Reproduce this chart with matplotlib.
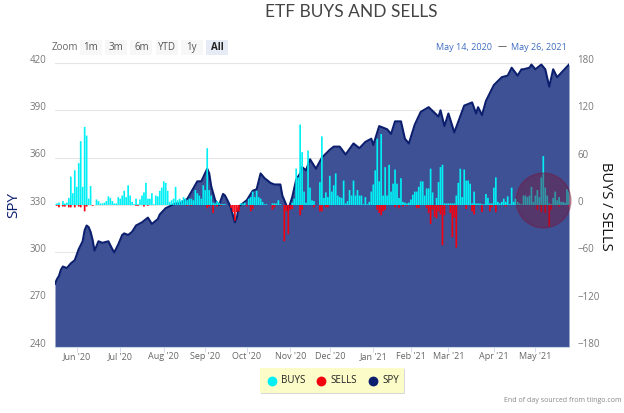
import matplotlib.pyplot as plt
import matplotlib.transforms as mtrans
import numpy as np
import pandas as pd

## Initializing Required Variables
holidays = ['2020-05-25', '2020-07-03', '2020-09-07', '2020-11-26', '2020-12-25', '2021-01-01', '2021-01-18', '2021-02-15', '2021-04-02']
title = "ETF BUYS AND SELLS"
zoom_buttons = ['1m', '3m', '6m', 'YTD', '1y', 'All']
left_ticks = [240, 270, 300, 330, 360, 390, 420]
right_ticks = [-180, -120, -60, 0, 60, 120, 180]

buys = [
  1, 2, 3, 0, 5, 2, 3, 9, 36, 15,
  44, 23, 53, 81, 23, 99, 88, 8, 24, 0,
  0, 7, 5, 2, 2, 3, 5, 11, 9, 5,
  2, 2, 10, 8, 12, 18, 10, 25, 12, 4,
  1, 8, 1, 7, 12, 16, 28, 8, 8, 15,
  1, 12, 11, 18, 22, 30, 28, 18, 4, 6,
  8, 23, 6, 8, 6, 10, 8, 6, 8, 8,
  6, 19, 15, 12, 8, 25, 19, 72, 19, 12,
  3, 2, 5, 3, 1, 1, 1, 0, 0, 0,
  0, 0, 0, 0, 2, 2, 3, 0, 8, 10,
  17, 10, 18, 10, 8, 4, 1, 1, 0, 0,
  2, 2, 2, 6, 1, 0, 0, 0, 0, 0,
  3, 8, 46, 35, 102, 67, 17, 3, 69, 22,
  6, 5, 0, 0, 29, 87, 9, 16, 10, 37,
  17, 25, 40, 12, 10, 9, 31, 2, 5, 19,
  12, 31, 12, 19, 12, 12, 1, 10, 1, 4,
  17, 26, 44, 84, 30, 90, 12, 48, 12, 51,
  17, 27, 45, 27, 9, 34, 4, 3, 2, 3,
  7, 13, 17, 17, 23, 30, 30, 12, 21, 21,
  46, 16, 0, 9, 29, 48, 51, 2, 2, 2,
  2, 2, 2, 12, 28, 46, 10, 45, 31, 31,
  27, 2, 17, 2, 2, 2, 1, 1, 14, 9,
  2, 2, 22, 35, 4, 2, 4, 8, 4, 11,
  1, 22, 4, 8, 4, 2, 1, 12, 12, 10,
  12, 23, 4, 12, 19, 10, 35, 62, 22, 12,
  2, 1, 9, 17, 6, 10, 4, 4, 3, 20, 17]

sell_days = [1, 2, 4, 5, 7, 8, 10, 12, 13, 15, 16, 19, 41, 42, 45, 47, 67, 69, 77, 78, 80, 82, 84,
  89, 90, 91, 92, 93, 97, 99, 100, 110, 111, 116, 117, 118, 119, 120, 124, 125, 131, 134, 135, 137, 138,
  163, 164, 165, 166, 167, 172, 174, 176, 178, 183, 184, 188, 189, 190, 191, 192, 193, 194, 195, 196, 197,
  200, 201, 202, 203, 208, 211, 212, 216, 220, 221, 223, 228, 244, 246, 248, 250, 251, 255, 260]
sell_values = [1, 3, 2, 2, 3, 3, 3, 2, 3, 8, 2, 1, 1, 1, 2, 1, 1, 1, 4, 2, 10, 2, 1,
  4, 9, 20, 9, 8, 2, 8, 5, 6, 3, 46, 8, 37, 6, 5, 13, 6, 3, 8, 8, 3, 3,
  6, 10, 13, 8, 6, 3, 4, 2, 1, 4, 4, 4, 10, 24, 6, 15, 17, 8, 12, 51, 13,
  10, 41, 16, 54, 5, 8, 12, 9, 8, 3, 9, 2, 6, 9, 10, 27, 6, 2, 2]

spy_days = [0, 1, 2, 3, 4, 6, 8, 10, 12, 14, 15, 16, 17, 18, 19, 20, 22, 24, 27, 29, 30, 32, 34, 35, 37, 39, 41, 44, 47, 49,
  50, 52, 53, 56, 61, 63, 67, 72, 74, 77, 78, 79, 81, 83, 85, 86, 88, 89, 91, 92, 93, 95, 97, 100, 102, 104, 106, 109, 111, 114,
  115, 118, 120, 122, 124, 125, 127, 129, 132, 135, 139, 141, 144, 147, 151, 154, 157, 160, 161, 164, 168, 170, 172, 175, 177, 179, 182, 185, 189, 194,
  195, 197, 199, 202, 207, 211, 213, 214, 216, 218, 222, 226, 229, 231, 234, 236, 237, 240, 241, 243, 246, 248, 250, 252, 254, 257, 260]
spy_values = [280, 283, 285, 289, 291, 290, 293, 295, 302, 307, 314, 317, 316, 313, 308, 301, 307, 306, 307, 302, 300, 305, 311, 312, 311, 313, 317, 319, 322, 318,
  319, 321, 324, 328, 331, 331, 334, 345, 345, 353, 350, 342, 333, 330, 337, 336, 331, 328, 319, 322, 329, 331, 333, 339, 340, 350, 347, 344, 343, 343,
  336, 327, 335, 346, 350, 354, 352, 359, 353, 360, 365, 367, 367, 362, 369, 366, 370, 372, 368, 380, 378, 375, 383, 383, 372, 369, 381, 389, 392, 386,
  390, 380, 388, 376, 393, 395, 388, 392, 387, 396, 406, 411, 412, 417, 412, 416, 416, 417, 419, 416, 419, 416, 405, 416, 411, 415, 419]

## Dates on an ordinal axis, one slot for every trading day
dates = pd.bdate_range('2020-05-14', '2021-05-26')
dates = dates[~dates.isin(pd.to_datetime(holidays))]
x = np.arange(len(dates))
sells = np.zeros(len(dates))
sells[sell_days] = sell_values

## Month ticks
months = pd.Series(x, index=dates).groupby([dates.year, dates.month]).first()[1:]
month_labels = [dates[i].strftime("%b '%y") for i in months]

plt.rcParams['font.family'] = ['Open Sans', 'DejaVu Sans']

fig = plt.figure(figsize=(6.24, 4.13), dpi=100)
W, H = 624.0, 413.0
ax = fig.add_axes([55 / W, 1 - 347 / H, 514 / W, 284 / H])
ax2 = ax.twinx()
lift = mtrans.ScaledTranslation(0, 3 / 72, fig.dpi_scale_trans)  # labels sit a little above the grid

## SPY area on the left axis
ax.fill_between(spy_days, spy_values, 240, color='#3f5195', linewidth=0, zorder=2)
ax.plot(spy_days, spy_values, color='#0b1f6e', linewidth=1.5, zorder=3)
ax.set_xlim(0, len(dates) - 1)
ax.set_ylim(240, 420)
ax.set_yticks(left_ticks)
ax.grid(axis='y', color='#e6e6e6', linewidth=0.8, zorder=0)
ax.set_axisbelow(True)
ax.set_xticks(months.values)
ax.set_xticklabels(month_labels)
ax.tick_params(axis='x', length=3.6, width=0.6, color='#ccd6eb', labelsize=6.5, labelcolor='#666666', pad=0)
ax.tick_params(axis='y', length=0, labelsize=7, labelcolor='#777777', pad=6)
for label in ax.get_yticklabels():
  label.set_transform(label.get_transform() + lift)

## Buys and sells on the right axis
ax2.bar(x, buys, width=0.85, color='#00f0f5', zorder=4, snap=False)
ax2.bar(x, -sells, width=0.85, color='#f5000f', zorder=4, snap=False)
ax2.scatter([247], [6], s=1560, facecolor='#7a1030', edgecolor='#7a1030', alpha=0.4, linewidth=1, zorder=5, clip_on=False)
ax2.set_ylim(-180, 180)
ax2.set_yticks(right_ticks)
ax2.tick_params(axis='y', length=0, labelsize=7, labelcolor='#777777', pad=6)
for label in ax2.get_yticklabels():
  label.set_transform(label.get_transform() + lift)

for side in ['top', 'left', 'right']:
  ax.spines[side].set_visible(False)
  ax2.spines[side].set_visible(False)
ax.spines['bottom'].set_color('#ccd6eb')
ax2.spines['bottom'].set_visible(False)
ax.patch.set_alpha(0)

## Title and axis names
fig.text(351 / W, 1 - 12 / H, title, ha='center', va='center', fontsize=12.5, color='#444444', family='Lato')
fig.text(14 / W, 1 - 205 / H, 'SPY', rotation=90, ha='center', va='center', fontsize=11, color='#0b1f6e')
fig.text(606 / W, 1 - 206 / H, 'BUYS / SELLS', rotation=270, ha='center', va='center', fontsize=10.5, color='#111111')

## Range selector
fig.text(65 / W, 1 - 47.5 / H, 'Zoom', ha='center', va='center', fontsize=7, color='#666666')
for i, name in enumerate(zoom_buttons):
  left = 80 + i * 25.2
  active = name == 'All'
  fig.patches.append(plt.Rectangle((left / W, 1 - 55 / H), 22 / W, 15 / H, transform=fig.transFigure, linewidth=0,
    facecolor='#e6ebf5' if active else '#f7f7f7'))
  fig.text((left + 11) / W, 1 - 47.5 / H, name, ha='center', va='center', fontsize=7, color='#222222' if active else '#555555',
    fontweight='bold' if active else 'normal')
fig.text(464.5 / W, 1 - 47 / H, 'May 14, 2020', ha='center', va='center', fontsize=6.5, color='#3d6cc0')
fig.text(502 / W, 1 - 47 / H, '\u2014', ha='center', va='center', fontsize=6.5, color='#444444')
fig.text(539 / W, 1 - 47 / H, 'May 26, 2021', ha='center', va='center', fontsize=6.5, color='#3d6cc0')

## Legend box
fig.patches.append(plt.Rectangle((261 / W, 1 - 394 / H), 144 / W, 25 / H, transform=fig.transFigure, linewidth=0, facecolor='#d8d8d8'))
fig.patches.append(plt.Rectangle((260 / W, 1 - 393 / H), 144 / W, 25 / H, transform=fig.transFigure, linewidth=0, facecolor='#fbfcc8'))
legend_ax = fig.add_axes([0, 0, 1, 1], frameon=False, zorder=5)
legend_ax.set_xlim(0, W)
legend_ax.set_ylim(H, 0)
legend_ax.set_axis_off()
for px, color, name in [(272, '#00eef5', 'BUYS'), (321, '#f5000f', 'SELLS'), (373, '#0b1f6e', 'SPY')]:
  legend_ax.scatter([px], [380.5], s=50, color=color, linewidth=0)
  legend_ax.text(px + 9, 380.5, name, ha='left', va='center', fontsize=7, color='#222222')

fig.text(621 / W, 1 - 401 / H, 'End of day sourced from tiingo.com', ha='right', va='center', fontsize=5, color='#888888')

# Save the plot
fig.savefig('out.png', dpi=100)
